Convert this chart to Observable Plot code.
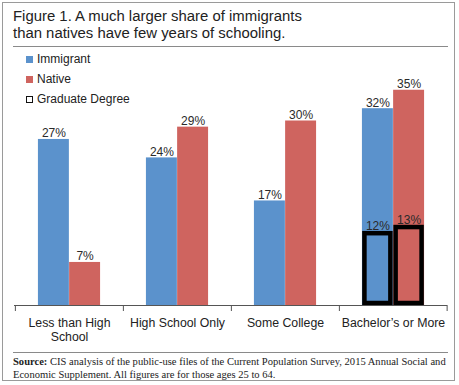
<!DOCTYPE html>
<html>
<head>
<meta charset="utf-8">
<script src="https://cdn.jsdelivr.net/npm/d3@7"></script>
<script src="https://cdn.jsdelivr.net/npm/@observablehq/plot@0.6"></script>
<style>
  body { margin: 0; background: #fff; font-family: "Liberation Sans", Arial, sans-serif; }
  #card { position: relative; width: 459px; height: 385px; overflow: hidden; }
  #frame { position: absolute; left: 2px; top: 2px; width: 451px; height: 377px; border: 1.5px solid #9a9a9a; }
  #title { position: absolute; left: 13px; top: 8px; font-size: 14.9px; line-height: 17px; color: #222; }
  .rule { position: absolute; left: 13px; width: 435px; height: 0; border-top: 1.5px solid #8a8a8a; }
  #chart { position: absolute; left: 0; top: 48px; }
  #legend { position: absolute; left: 26px; top: 49px; font-size: 12px; color: #222; }
  .li { display: flex; align-items: center; height: 20px; }
  .sw { width: 7px; height: 7px; margin-right: 4px; box-sizing: border-box; }
  #source { position: absolute; left: 13px; top: 355px; width: 446px; font-family: "Liberation Serif", "Times New Roman", serif; font-size: 10.55px; line-height: 13px; color: #222; white-space: nowrap; }
</style>
</head>
<body>
<div id="card">
  <div id="frame"></div>
  <div id="title">Figure 1. A much larger share of immigrants<br>than natives have few years of schooling.</div>
  <div class="rule" style="top:46px"></div>
  <div id="chart"></div>
  <div id="legend"></div>
  <div class="rule" style="top:352px"></div>
  <div id="source"><b>Source:</b> CIS analysis of the public-use files of the Current Population Survey, 2015 Annual Social and<br>Economic Supplement. All figures are for those ages 25 to 64.</div>
</div>
<script>
const categories = ["Less than High School", "High School Only", "Some College", "Bachelor's or More"];
const tickLabels = ["Less than High\nSchool", "High School Only", "Some College", "Bachelor\u2019s or More"];
const series = ["Immigrant", "Native", "Graduate Degree"];
const immigrant = [27, 24, 17, 32];
const native = [7, 29, 30, 35];
const graduateCategory = ["Bachelor's or More"];
const graduateImmigrant = [12];
const graduateNative = [13];

const BLUE = "#5b92cc", RED = "#cf645f";
const colors = [BLUE, RED, "#fff"];

const immRows = categories.map((c, i) => ({cat: c, value: immigrant[i]}));
const natRows = categories.map((c, i) => ({cat: c, value: native[i]}));
const gImm = graduateCategory.map((c, i) => ({cat: c, value: graduateImmigrant[i]}));
const gNat = graduateCategory.map((c, i) => ({cat: c, value: graduateNative[i]}));

const W = 459, ML = 14, MR = 12;
const bw = (W - ML - MR) / categories.length; // band width
const half = bw / 2;
const barW = 31.2;
const edge = half - barW; // inset of outer side

const pct = d => d.value + "%";
const txt = {fontSize: 12, fill: "#2a2a2a", lineAnchor: "bottom", dy: -2, fontFamily: "Liberation Sans, Arial, sans-serif"};

const plot = Plot.plot({
  width: W,
  height: 304,
  marginLeft: ML,
  marginRight: MR,
  marginTop: 11,
  marginBottom: 47,
  style: {fontFamily: "Liberation Sans, Arial, sans-serif", background: "transparent"},
  x: {type: "band", domain: categories, padding: 0, axis: null},
  y: {domain: [0, 40], axis: null},
  marks: [
    Plot.barY(immRows, {x: "cat", y: "value", fill: BLUE, insetLeft: edge, insetRight: half}),
    Plot.barY(natRows, {x: "cat", y: "value", fill: RED, insetLeft: half, insetRight: edge}),
    Plot.barY(gImm, {x: "cat", y: "value", fill: BLUE, stroke: "#000", strokeWidth: 4.5,
      insetLeft: edge + 2.5, insetRight: half + 2.5, insetTop: 2, insetBottom: 2}),
    Plot.barY(gNat, {x: "cat", y: "value", fill: RED, stroke: "#000", strokeWidth: 4.5,
      insetLeft: half + 2.5, insetRight: edge + 2.5, insetTop: 2, insetBottom: 2}),
    Plot.text(immRows, {x: "cat", y: "value", text: pct, ...txt, dx: -barW / 2}),
    Plot.text(natRows, {x: "cat", y: "value", text: pct, ...txt, dx: barW / 2}),
    Plot.text(gImm, {x: "cat", y: "value", text: pct, ...txt, dx: -barW / 2}),
    Plot.text(gNat, {x: "cat", y: "value", text: pct, ...txt, dx: barW / 2}),
    Plot.ruleY([0], {stroke: "#555", strokeWidth: 1}),
    Plot.ruleX(categories, {x: d => d, dx: -half, y1: 0, y2: 0, insetBottom: -6, stroke: "#555"}),
    Plot.ruleX(categories.slice(-1), {x: d => d, dx: half - 0.5, y1: 0, y2: 0, insetBottom: -6, stroke: "#555"}),
    Plot.axisX({tickSize: 0, tickPadding: 11, fontSize: 12.3, lineHeight: 1.15, fill: "#222", label: null,
      tickFormat: d => tickLabels[categories.indexOf(d)]})
  ]
});
document.getElementById("chart").appendChild(plot);

const legend = document.getElementById("legend");
series.forEach((s, i) => {
  const row = document.createElement("div");
  row.className = "li";
  const sw = document.createElement("div");
  sw.className = "sw";
  sw.style.background = colors[i];
  if (i === 2) sw.style.border = "1px solid #111";
  const t = document.createElement("span");
  t.textContent = s;
  row.appendChild(sw); row.appendChild(t);
  legend.appendChild(row);
});
</script>
</body>
</html>
